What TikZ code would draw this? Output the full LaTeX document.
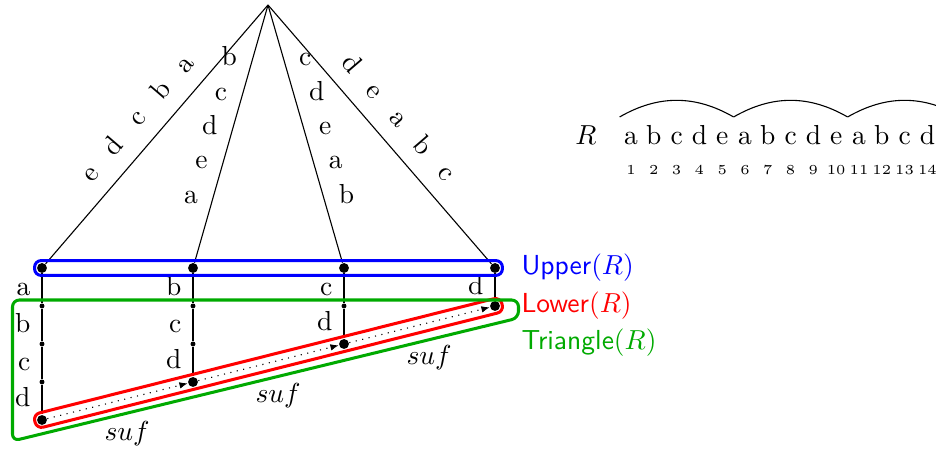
\documentclass[tikz,border=0pt]{standalone}
\usetikzlibrary{arrows.meta,fit}
\definecolor{upc}{RGB}{0,0,255}
\definecolor{lowc}{RGB}{255,0,0}
\definecolor{tric}{RGB}{0,170,0}
\tikzset{
  >={Latex[length=3pt,width=2.4pt]},
  bigdot/.style={circle,fill=black,inner sep=0pt,minimum size=3.6pt},
  smalldot/.style={circle,fill=black,inner sep=0pt,minimum size=1.8pt},
  ltr/.style={inner sep=0pt,text height=1.2ex,text depth=0pt},
  band/.style={draw,line width=1.1pt,rounded corners=2.4pt,inner sep=0.7pt},
  sufarr/.style={->,dotted},
  setname/.style={anchor=base west,inner sep=0pt,font=\sffamily},
}
\begin{document}
\begin{tikzpicture}[x=0.3636pt,y=-0.3636pt]
  \path[use as bounding box,clip] (0,0) rectangle (936,452);

  % root and the four branches
  \coordinate (root) at (268,5);
  \node[bigdot] (u1) at (42,268) {};
  \node[bigdot] (u2) at (193,268) {};
  \node[bigdot] (u3) at (344,268) {};
  \node[bigdot] (u4) at (495,268) {};
  \foreach \i in {1,...,4} \draw (root) -- (u\i);

  % branch labels
  \foreach \l/\p in {a/.29,b/.394,c/.5,d/.608,e/.713}
    \path (root) -- (u1) node[ltr,sloped,above=6pt,pos=\p] {\l};
  \foreach \l/\p in {b/.209,c/.342,d/.475,e/.608,a/.741}
    \path (root) -- (u2) node[ltr,left=5.5pt,pos=\p] {\l};
  \foreach \l/\p in {c/.209,d/.342,e/.475,a/.608,b/.741}
    \path (root) -- (u3) node[ltr,right=5.5pt,pos=\p] {\l};
  \foreach \l/\p in {d/.29,e/.394,a/.5,b/.608,c/.713}
    \path (root) -- (u4) node[ltr,sloped,above=6pt,pos=\p] {\l};

  % the columns below the upper nodes
  \node[smalldot] (s1a) at (42,306) {};
  \node[smalldot] (s1b) at (42,344) {};
  \node[smalldot] (s1c) at (42,382) {};
  \node[bigdot]   (l1)  at (42,420) {};
  \node[smalldot] (s2a) at (193,306) {};
  \node[smalldot] (s2b) at (193,344) {};
  \node[bigdot]   (l2)  at (193,382) {};
  \node[smalldot] (s3a) at (344,306) {};
  \node[bigdot]   (l3)  at (344,344) {};
  \node[bigdot]   (l4)  at (495,306) {};

  \draw (u1) -- node[ltr,left=4pt] {a} (s1a) -- node[ltr,left=4pt] {b} (s1b)
        -- node[ltr,left=4pt] {c} (s1c) -- node[ltr,left=4pt] {d} (l1);
  \draw (u2) -- node[ltr,left=4pt] {b} (s2a) -- node[ltr,left=4pt] {c} (s2b)
        -- node[ltr,left=4pt] {d} (l2);
  \draw (u3) -- node[ltr,left=4pt] {c} (s3a) -- node[ltr,left=4pt] {d} (l3);
  \draw (u4) -- node[ltr,left=4pt] {d} (l4);

  % suffix links
  \draw[sufarr] (l1) -- node[below=4pt,xshift=3.5pt] {$suf$} (l2);
  \draw[sufarr] (l2) -- node[below=4pt,xshift=3.5pt] {$suf$} (l3);
  \draw[sufarr] (l3) -- node[below=4pt,xshift=3.5pt] {$suf$} (l4);

  % groups
  \node[band,draw=upc,fit=(u1)(u4)] (upper) {};
  \node[band,draw=lowc,rotate fit=14.1,fit=(l1)(l4)] (lower) {};
  \draw[tric,line width=1.1pt,rounded corners=2.5pt]
    (12.5,300) -- (518.5,300) -- (518.5,318) -- (12.5,441) -- cycle;

  \node[setname,text=upc]  (upname)  at (521,275) {Upper$(R)$};
  \node[setname,text=lowc] (lowname) at (521,313) {Lower$(R)$};
  \node[setname,text=tric] (triname) at (521,350) {Triangle$(R)$};

  % the string R
  \node[anchor=base] (rname) at (586,145) {$R$};
  \foreach \ch [count=\i] in {a,b,c,d,e,a,b,c,d,e,a,b,c,d} {
    \node[anchor=base] (r\i) at ({631+22.8*(\i-1)},145) {\ch};
    \node[anchor=base,font=\tiny] (n\i) at ({631+22.8*(\i-1)},175) {\i};
  }
  \foreach \k in {0,...,3}
    \coordinate (b\k) at ({619.6+114*\k},117);
  \foreach \k/\j in {0/1,1/2,2/3}
    \draw (b\k) to[bend left=30] (b\j);
\end{tikzpicture}
\end{document}
